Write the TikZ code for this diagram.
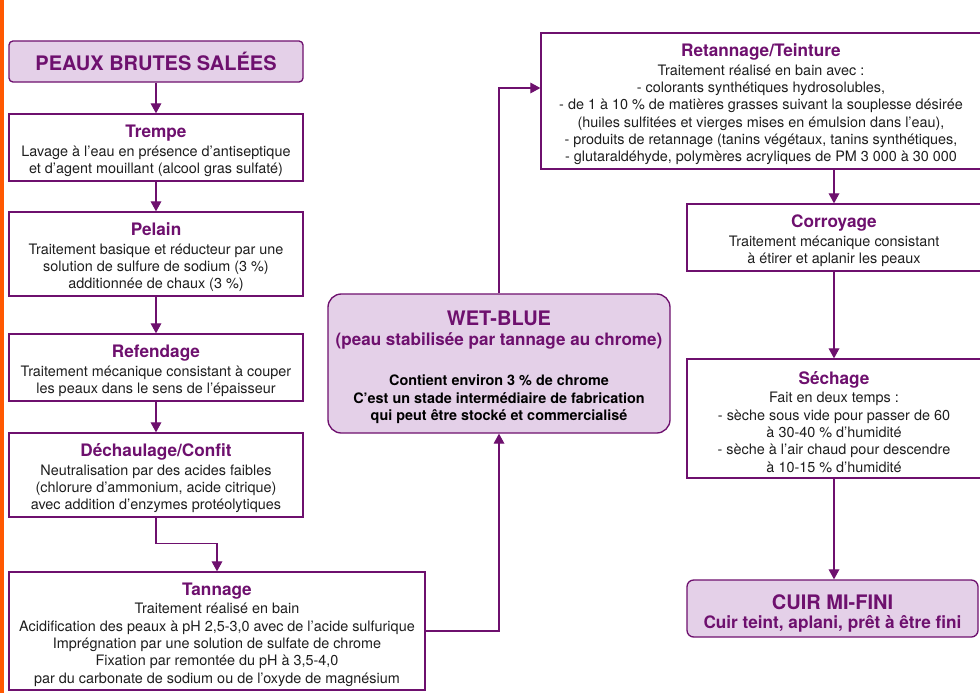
\documentclass[tikz,border=0pt]{standalone}
\usepackage{fontspec}
\setmainfont{TeX Gyre Heros}
\usetikzlibrary{arrows.meta,calc}
\definecolor{pur}{RGB}{110,16,110}
\definecolor{lpur}{RGB}{228,208,232}
\definecolor{txt}{RGB}{30,30,30}
\definecolor{orng}{RGB}{255,88,0}
\newcommand{\bodyf}{\fontsize{10.8}{13}\selectfont}
\newcommand{\ttl}[1]{{\fontsize{12.9}{15}\selectfont\bfseries\color{pur}\rule{0pt}{14.5pt}#1}\\[1pt]}
\tikzset{
  box/.style={draw=pur, line width=1pt, fill=white, align=center, inner sep=0pt, font=\bodyf, text=txt},
  rbox/.style={box, fill=lpur, rounded corners=#1},
  arr/.style={draw=pur, line width=0.9pt, -{Triangle[length=7.5pt,width=8pt]}},
}
\begin{document}
\begin{tikzpicture}[x=0.75pt,y=-0.75pt]
\useasboundingbox (0,0) rectangle (980,693);
\fill[orng] (0,0) rectangle (4,693);

\node[rbox=3pt, minimum width=220.5pt, minimum height=30.75pt] (peaux) at (156,61.5)
  {\fontsize{15}{18}\selectfont\bfseries\color{pur}PEAUX BRUTES SALÉES};
\node[box, minimum width=220.5pt, minimum height=50.25pt] (trempe) at (156,147.5)
  {\ttl{Trempe}Lavage à l’eau en présence d’antiseptique\\et d’agent mouillant (alcool gras sulfaté)};
\node[box, minimum width=220.5pt, minimum height=63pt] (pelain) at (156,254)
  {\ttl{Pelain}Traitement basique et réducteur par une\\solution de sulfure de sodium (3 \%)\\additionnée de chaux (3 \%)};
\node[box, minimum width=220.5pt, minimum height=50.25pt] (refend) at (156,367.5)
  {\ttl{Refendage}Traitement mécanique consistant à couper\\les peaux dans le sens de l’épaisseur};
\node[box, minimum width=220.5pt, minimum height=63pt] (dech) at (156,475)
  {\ttl{Déchaulage/Confit}Neutralisation par des acides faibles\\(chlorure d’ammonium, acide citrique)\\avec addition d’enzymes protéolytiques};
\node[box, minimum width=312pt, minimum height=88.5pt] (tann) at (217,631)
  {\ttl{Tannage}Traitement réalisé en bain\\Acidification des peaux à pH 2,5-3,0 avec de l’acide sulfurique\\Imprégnation par une solution de sulfate de chrome\\Fixation par remontée du pH à 3,5-4,0\\par du carbonate de sodium ou de l’oxyde de magnésium};
\node[rbox=10pt, minimum width=256.5pt, minimum height=104.25pt] (wet) at (499,363.5)
  {{\fontsize{15}{18}\selectfont\bfseries\color{pur}\rule{0pt}{16.8pt}WET-BLUE}\\[2pt]
   {\fontsize{12.8}{15}\selectfont\bfseries\color{pur}(peau stabilisée par tannage au chrome)}\\[17pt]
   {\bfseries\color{black}Contient environ 3 \% de chrome}\\
   {\bfseries\color{black}C’est un stade intermédiaire de fabrication}\\
   {\bfseries\color{black}qui peut être stocké et commercialisé}};
\node[box, minimum width=330pt, minimum height=102pt] (retan) at (761,101)
  {\ttl{Retannage/Teinture}Traitement réalisé en bain avec :\\- colorants synthétiques hydrosolubles,\\- de 1 à 10 \% de matières grasses suivant la souplesse désirée\\(huiles sulfitées et vierges mises en émulsion dans l’eau),\\- produits de retannage (tanins végétaux, tanins synthétiques,\\- glutaraldéhyde, polymères acryliques de PM 3 000 à 30 000};
\node[box, minimum width=220.5pt, minimum height=50.25pt] (corr) at (834,237.5)
  {\ttl{Corroyage}Traitement mécanique consistant\\à étirer et aplanir les peaux};
\node[box, minimum width=220.5pt, minimum height=89.25pt] (sech) at (834,418.5)
  {\ttl{Séchage}Fait en deux temps :\\- sèche sous vide pour passer de 60\\à 30-40 \% d’humidité\\- sèche à l’air chaud pour descendre\\à 10-15 \% d’humidité};
\node[rbox=5pt, minimum width=218.25pt, minimum height=42.75pt] (cuir) at (832.5,608.5)
  {{\fontsize{15}{18}\selectfont\bfseries\color{pur}\rule{0pt}{18.3pt}CUIR MI-FINI}\\[1pt]
   {\fontsize{12.9}{15}\selectfont\bfseries\color{pur}Cuir teint, aplani, prêt à être fini}};

\draw[arr] (peaux) -- (trempe);
\draw[arr] (trempe) -- (pelain);
\draw[arr] (pelain) -- (refend);
\draw[arr] (refend) -- (dech);
\draw[arr] (dech.south) -- ++(0,26) -| (tann.north);
\draw[arr] (tann.east) -| (wet.south);
\draw[arr] (wet.north) |- ([yshift=9.75pt]retan.west);
\draw[arr] (retan.south -| corr.north) -- (corr.north);
\draw[arr] (corr.south) -- (sech.north);
\draw[arr] (sech.south) -- (sech.south |- cuir.north);
\end{tikzpicture}
\end{document}
